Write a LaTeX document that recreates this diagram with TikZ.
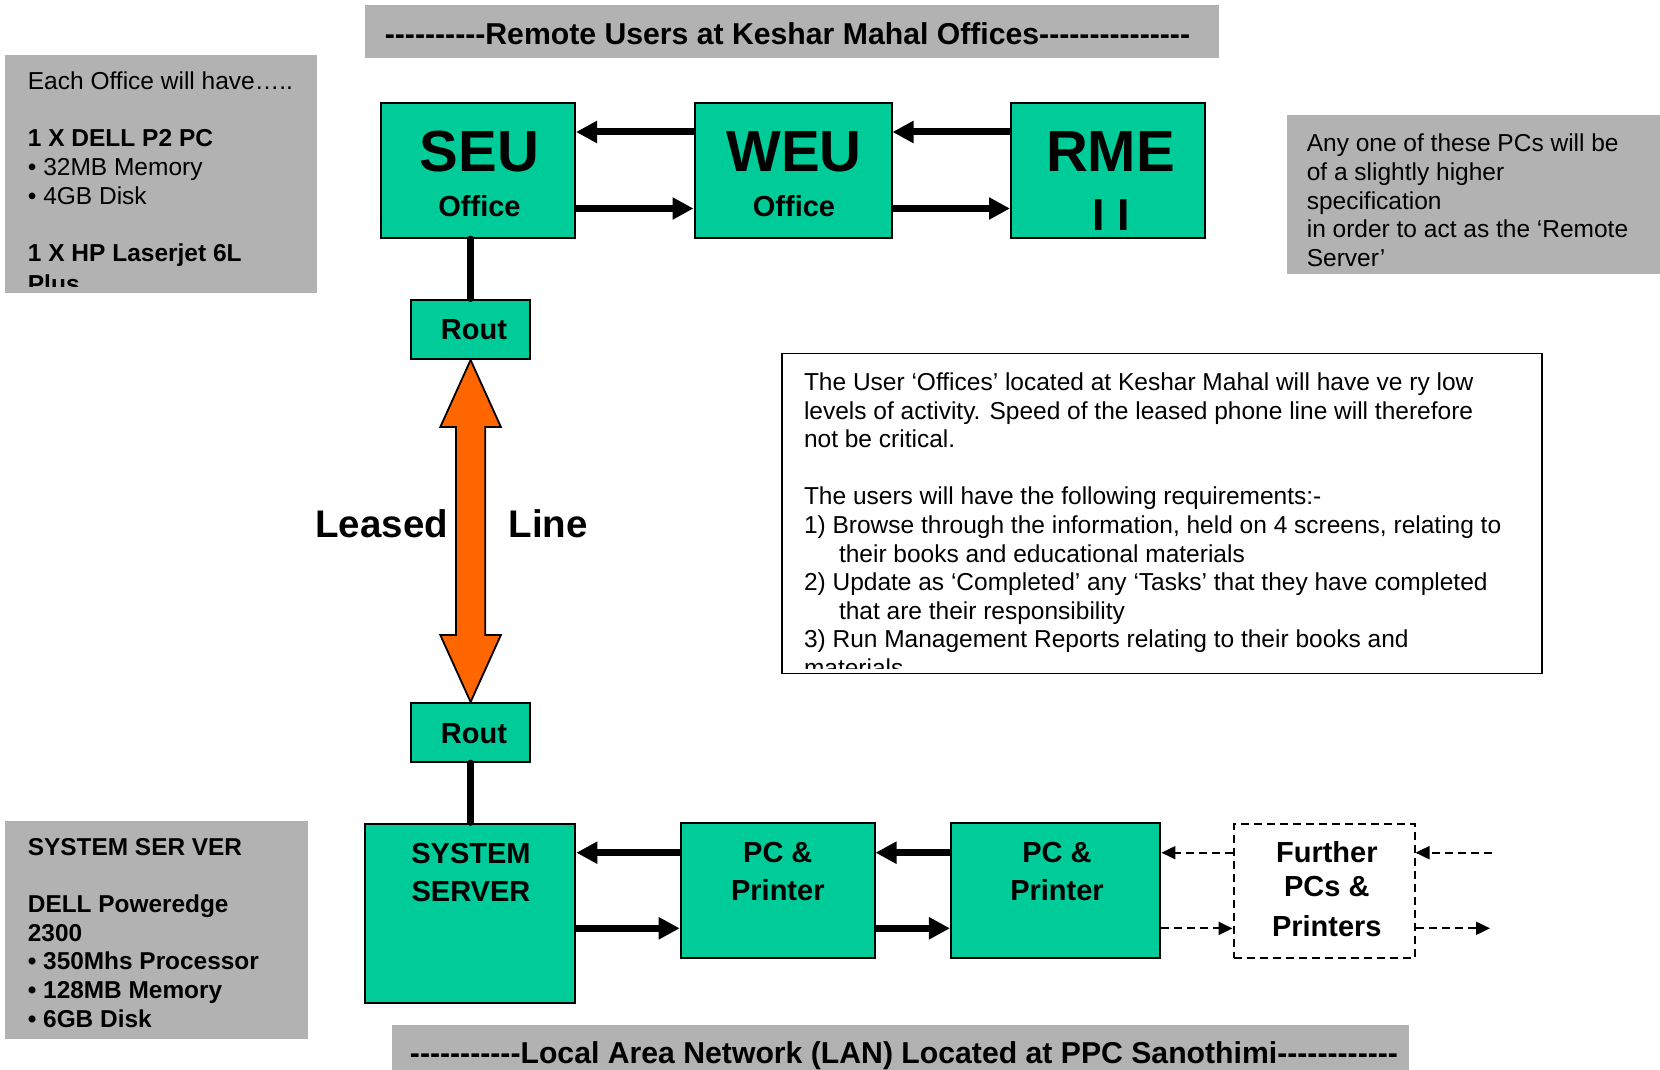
\documentclass[tikz,border=0pt]{standalone}
\usepackage{fontspec}
\setmainfont{Liberation Sans}[Ligatures=TeXOff]
\usetikzlibrary{arrows.meta,calc}
\definecolor{boxgreen}{RGB}{0,204,153}
\definecolor{panelgray}{RGB}{178,178,178}
\definecolor{leaseorange}{RGB}{255,102,0}
\begin{document}
\begin{tikzpicture}[x=1pt,y=-1pt,
  greenbox/.style={draw=black, line width=2pt, fill=boxgreen, inner sep=0pt},
  graypanel/.style={fill=panelgray, draw=none, inner sep=0pt, anchor=north west},
  bigtxt/.style={font=\fontsize{58}{60}\selectfont\bfseries, inner sep=0pt, anchor=base},
  midtxt/.style={font=\fontsize{29}{34}\selectfont\bfseries, inner sep=0pt, anchor=base},
  bodytxt/.style={font=\fontsize{24.5}{28.6}\selectfont, inner sep=0pt, anchor=north west, align=left},
  boldbody/.style={font=\fontsize{24.4}{28.6}\selectfont\bfseries, inner sep=0pt, anchor=north west, align=left},
  titletxt/.style={font=\fontsize{30.2}{34}\selectfont\bfseries, inner sep=0pt, anchor=base},
  thickarrow/.style={draw=black, line width=7pt, -{Triangle[length=21pt,width=21pt]}},
  dasharrow/.style={draw=black, line width=2pt, dash pattern=on 8pt off 5pt, -{Triangle[length=14pt,width=13pt]}},
  vline/.style={draw=black, line width=6.7pt, line cap=round},
  leasearrow/.style={draw=black, line width=1.8pt, fill=leaseorange, line join=miter},
]
\useasboundingbox (0,0) rectangle (1660,1070);

% ---- title panels
\node[graypanel, minimum width=854pt, minimum height=53pt] (topTitle) at (365,5) {};
\node[titletxt] (topTitleT) at (787.5,45) {----------Remote Users at Keshar Mahal Offices---------------};
\node[graypanel, minimum width=1017.3pt, minimum height=45pt] (lanTitle) at (391.7,1025) {};
\node[titletxt] (lanTitleT) at (904,1063) {-----------Local Area Network (LAN) Located at PPC Sanothimi------------};

% ---- left top spec panel
\node[graypanel, minimum width=312pt, minimum height=237.7pt] (specA) at (5,55) {};
\begin{scope}
\clip (specA.north west) rectangle ($(specA.south east)+(0,-6.5)$);
\node[bodytxt] (specAt) at (27.7,71.8) {Each Office will have…..\\[28.6pt]\textbf{1 X DELL P2 PC}\\• 32MB Memory\\• 4GB Disk\\[28.6pt]\textbf{1 X HP Laserjet 6L}\\[2.5pt]\textbf{Plus}};
\end{scope}

% ---- right spec panel
\node[graypanel, minimum width=373pt, minimum height=159pt] (specB) at (1287,115) {};
\node[bodytxt] (specBt) at (1306.6,134) {Any one of these PCs will be\\of a slightly higher\\specification\\in order to act as the ‘Remote\\Server’};

% ---- note box
\node[draw=black, line width=1.6pt, fill=white, inner sep=0pt, anchor=north west, minimum width=760pt, minimum height=320pt] (note) at (781,352.7) {};
\begin{scope}
\clip (note.north west) rectangle ($(note.south east)+(0,-6)$);
\node[bodytxt] (notet) at (803.8,372.5) {The User ‘Offices’ located at Keshar Mahal will have ve ry low\\levels of activity. Speed of the leased phone line will therefore\\not be critical.\\[28.6pt]The users will have the following requirements:-\\1) Browse through the information, held on 4 screens, relating to\\\hspace*{35pt}their books and educational materials\\2) Update as ‘Completed’ any ‘Tasks’ that they have completed\\\hspace*{35pt}that are their responsibility\\3) Run Management Reports relating to their books and\\materials};
\end{scope}

% ---- bottom left spec panel
\node[graypanel, minimum width=303pt, minimum height=218pt] (specC) at (5,821) {};
\node[boldbody] (specCt) at (27.7,838.3) {SYSTEM SER VER\\[28.6pt]DELL Poweredge\\2300\\• 350Mhs Processor\\• 128MB Memory\\• 6GB Disk};

% ---- top row boxes
\node[greenbox, minimum width=194pt, minimum height=135pt] (SEU) at (478,170.5) {};
\node[greenbox, minimum width=197pt, minimum height=135pt] (WEU) at (793,170.5) {};
\node[greenbox, minimum width=194pt, minimum height=135pt] (RME) at (1108,170.5) {};
\node[bigtxt] (SEUt) at (479.5,171.7) {SEU};
\node[midtxt] (SEUo) at (479.5,216) {Office};
\node[bigtxt] (WEUt) at (794,171.7) {WEU};
\node[midtxt] (WEUo) at (794,216) {Office};
\node[bigtxt] (RMEt) at (1110.5,171.7) {RME};
\node[font=\fontsize{44.7}{46}\selectfont\bfseries, inner sep=0pt, anchor=base] (RMEi) at (1111,230) {I I};

% ---- routers
\node[greenbox, minimum width=119.6pt, minimum height=59.4pt] (Rout1) at (470.6,329.3) {};
\node[midtxt] (Rout1t) at (474,339.5) {Rout};
\node[greenbox, minimum width=119.6pt, minimum height=59pt] (Rout2) at (470.6,732.5) {};
\node[midtxt] (Rout2t) at (474,743) {Rout};

% ---- bottom row boxes
\node[greenbox, minimum width=210.7pt, minimum height=179pt] (SS) at (470,913) {};
\node[midtxt] (SSt1) at (471,863.3) {SYSTEM};
\node[midtxt] (SSt2) at (471,901.7) {SERVER};
\node[greenbox, minimum width=193.8pt, minimum height=135pt] (PC1) at (777.6,890.8) {};
\node[midtxt] (PC1a) at (777.8,862.7) {PC \&};
\node[midtxt] (PC1b) at (777.8,900) {Printer};
\node[greenbox, minimum width=209.5pt, minimum height=135pt] (PC2) at (1055.7,890.8) {};
\node[midtxt] (PC2a) at (1057,862.7) {PC \&};
\node[midtxt] (PC2b) at (1057,900) {Printer};
\node[draw=black, line width=2pt, dash pattern=on 8pt off 5pt, fill=white, inner sep=0pt, minimum width=181pt, minimum height=134pt] (FUR) at (1324,890.7) {};
\node[midtxt] (FURa) at (1326.8,862.7) {Further};
\node[midtxt] (FURb) at (1326.8,896.7) {PCs \&};
\node[midtxt] (FURc) at (1326.8,936) {Printers};

% ---- top row connectors
\draw[thickarrow] ($(WEU.west)+(0,-38.5)$) coordinate (a1) -- (a1 -| SEU.east);
\draw[thickarrow] ($(SEU.east)+(0,38)$) coordinate (a2) -- (a2 -| WEU.west);
\draw[thickarrow] ($(RME.west)+(0,-38.5)$) coordinate (a3) -- (a3 -| WEU.east);
\draw[thickarrow] ($(WEU.east)+(0,38)$) coordinate (a4) -- (a4 -| RME.west);

% ---- vertical links
\draw[vline] (SEU.south -| Rout1.north) -- (Rout1.north);
\draw[vline] (Rout2.south) -- (Rout2.south |- SS.north);

% ---- leased line double arrow
\draw[leasearrow] (Rout1.south) -- ($(Rout1.south)+(30.3,67)$) -- ($(Rout1.south)+(14.65,67)$)
  -- ($(Rout2.north)+(14.65,-67)$) -- ($(Rout2.north)+(30.3,-67)$) -- (Rout2.north)
  -- ($(Rout2.north)+(-30.3,-67)$) -- ($(Rout2.north)+(-14.65,-67)$)
  -- ($(Rout1.south)+(-14.65,67)$) -- ($(Rout1.south)+(-30.3,67)$) -- cycle;
\node[font=\fontsize{38.5}{40}\selectfont\bfseries, inner sep=0pt, anchor=base east] (leasedT) at (448.3,537) {Leased};
\node[font=\fontsize{38.5}{40}\selectfont\bfseries, inner sep=0pt, anchor=base west] (lineT) at (508.3,537) {Line};

% ---- bottom row connectors
\draw[thickarrow] ($(PC1.west)+(0,-38.1)$) coordinate (b1) -- (b1 -| SS.east);
\coordinate (b2) at ($(PC1.west)+(0,37.5)$);
\draw[thickarrow] (b2 -| SS.east) -- (b2);
\draw[thickarrow] ($(PC2.west)+(0,-38.1)$) coordinate (b3) -- (b3 -| PC1.east);
\draw[thickarrow] ($(PC1.east)+(0,37.5)$) coordinate (b4) -- (b4 -| PC2.west);
\draw[dasharrow] ($(FUR.west)+(0,-38)$) coordinate (c1) -- (c1 -| PC2.east);
\draw[dasharrow] ($(PC2.east)+(0,37.6)$) coordinate (c2) -- (c2 -| FUR.west);
\coordinate (rin) at (1492,852.7);
\coordinate (rout) at (1490,928.3);
\draw[dasharrow] (rin) -- (rin -| FUR.east);
\draw[dasharrow] (rout -| FUR.east) -- (rout);
\end{tikzpicture}
\end{document}
